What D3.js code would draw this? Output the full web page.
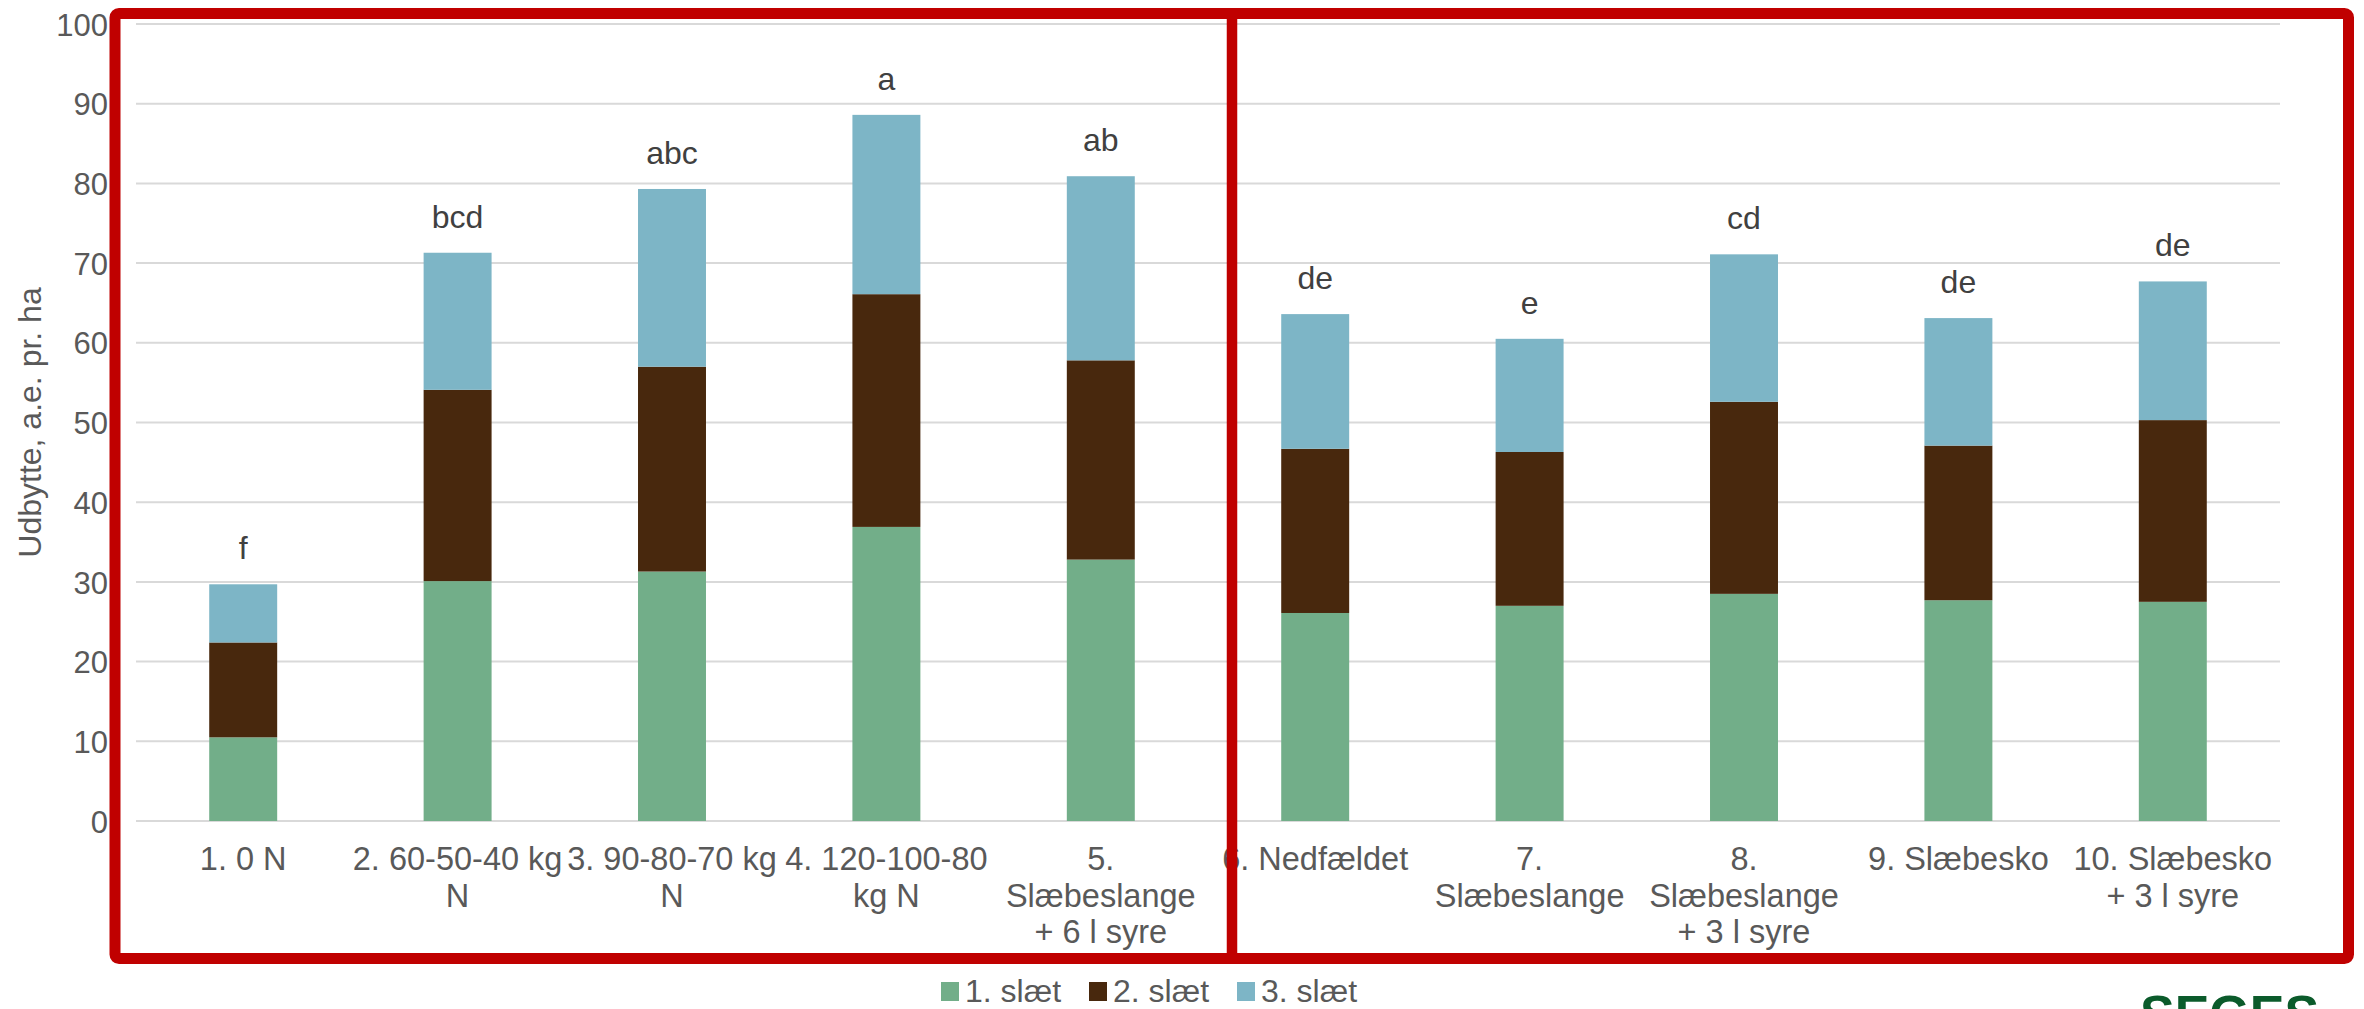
<!DOCTYPE html>
<html>
<head>
<meta charset="utf-8">
<script src="https://cdn.jsdelivr.net/npm/d3@7"></script>
<style>
  html, body { margin: 0; padding: 0; background: #ffffff; }
  svg { display: block; font-family: "Liberation Sans", Arial, sans-serif; }
</style>
</head>
<body>
<svg id="chart" width="2364" height="1009"></svg>
<script>
// ---- data ----
const categories = [
  "1. 0 N",
  "2. 60-50-40 kg\nN",
  "3. 90-80-70 kg\nN",
  "4. 120-100-80\nkg N",
  "5.\nSlæbeslange\n+ 6 l syre",
  "6. Nedfældet",
  "7.\nSlæbeslange",
  "8.\nSlæbeslange\n+ 3 l syre",
  "9. Slæbesko",
  "10. Slæbesko\n+ 3 l syre"
];
const slaet1 = [10.5, 30.1, 31.3, 36.9, 32.8, 26.1, 27.0, 28.5, 27.7, 27.5];
const slaet2 = [11.9, 24.0, 25.7, 29.2, 25.0, 20.6, 19.3, 24.1, 19.4, 22.8];
const slaet3 = [7.3, 17.2, 22.3, 22.5, 23.1, 16.9, 14.2, 18.5, 16.0, 17.4];
const letters = ["f", "bcd", "abc", "a", "ab", "de", "e", "cd", "de", "de"];
const seriesNames = ["1. slæt", "2. slæt", "3. slæt"];
const yTicks = [0, 10, 20, 30, 40, 50, 60, 70, 80, 90, 100];
const yTitle = "Udbytte, a.e. pr. ha";
const logoText = "SEGES";

// ---- styles ----
const colors = ["#72ae89", "#48280d", "#7db5c6"];
const textGray = "#595959";
const labelDark = "#404040";
const frameRed = "#c00000";

const svg = d3.select("#chart");

const x = d3.scaleBand()
  .domain(categories)
  .range([136, 2280])
  .paddingInner(0.683)
  .paddingOuter(0.3415);

const y = d3.scaleLinear().domain([0, 100]).range([821, 24]);

// gridlines
svg.append("g").selectAll("line")
  .data(yTicks)
  .join("line")
  .attr("x1", 136).attr("x2", 2280)
  .attr("y1", d => y(d)).attr("y2", d => y(d))
  .attr("stroke", "#d9d9d9").attr("stroke-width", 2);

// y tick labels
const yAxis = d3.axisLeft(y).tickValues(yTicks).tickSize(0).tickPadding(0);
const yg = svg.append("g").attr("transform", "translate(108,0)").call(yAxis);
yg.select(".domain").remove();
yg.selectAll("text")
  .attr("fill", textGray)
  .attr("font-size", 31)
  .attr("font-family", "Liberation Sans, Arial, sans-serif")
  .attr("x", 0)
  .attr("dy", "0.36em");

// y title
svg.append("text")
  .attr("transform", `translate(41,${(y(0) + y(100)) / 2}) rotate(-90)`)
  .attr("text-anchor", "middle")
  .attr("font-size", 32)
  .attr("fill", textGray)
  .text(yTitle);

// stacked bars
const rows = categories.map((c, i) => ({ cat: c, s0: slaet1[i], s1: slaet2[i], s2: slaet3[i] }));
const stack = d3.stack().keys(["s0", "s1", "s2"])(rows);

svg.append("g").selectAll("g")
  .data(stack)
  .join("g")
  .attr("fill", (d, i) => colors[i])
  .selectAll("rect")
  .data(d => d)
  .join("rect")
  .attr("x", d => x(d.data.cat))
  .attr("width", x.bandwidth())
  .attr("y", d => y(d[1]))
  .attr("height", d => y(d[0]) - y(d[1]));

// letter labels
svg.append("g").selectAll("text")
  .data(rows)
  .join("text")
  .attr("x", d => x(d.cat) + x.bandwidth() / 2)
  .attr("y", d => y(d.s0 + d.s1 + d.s2) - 25)
  .attr("text-anchor", "middle")
  .attr("font-size", 32)
  .attr("fill", labelDark)
  .text((d, i) => letters[i]);

// x labels
const xl = svg.append("g").selectAll("text")
  .data(categories)
  .join("text")
  .attr("x", d => x(d) + x.bandwidth() / 2)
  .attr("y", 870)
  .attr("text-anchor", "middle")
  .attr("font-size", 32.5)
  .attr("fill", textGray);
xl.selectAll("tspan")
  .data(d => d.split("\n"))
  .join("tspan")
  .attr("x", function() { return this.parentNode.getAttribute("x"); })
  .attr("dy", (d, i) => i === 0 ? 0 : 36.5)
  .text(d => d);

// legend
const leg = svg.append("g").selectAll("g")
  .data(seriesNames)
  .join("g")
  .attr("transform", (d, i) => `translate(${941 + i * 148},0)`);
leg.append("rect")
  .attr("x", 0).attr("y", 982).attr("width", 18).attr("height", 19)
  .attr("fill", (d, i) => colors[i]);
leg.append("text")
  .attr("x", 24).attr("y", 1002)
  .attr("font-size", 32)
  .attr("fill", textGray)
  .text(d => d);

// red frame annotation
svg.append("rect")
  .attr("x", 115).attr("y", 13.5)
  .attr("width", 2348.5 - 115).attr("height", 958.5 - 13.5)
  .attr("rx", 4)
  .attr("fill", "none")
  .attr("stroke", frameRed)
  .attr("stroke-width", 11);
svg.append("line")
  .attr("x1", 1232).attr("x2", 1232)
  .attr("y1", 13.5).attr("y2", 958.5)
  .attr("stroke", frameRed)
  .attr("stroke-width", 10.5);

// logo (cut off at bottom, as in the reference)
svg.append("text")
  .attr("x", 2140).attr("y", 1032)
  .attr("font-size", 52)
  .attr("font-weight", "bold")
  .attr("fill", "#0b5b2b")
  .text(logoText);
</script>
</body>
</html>
